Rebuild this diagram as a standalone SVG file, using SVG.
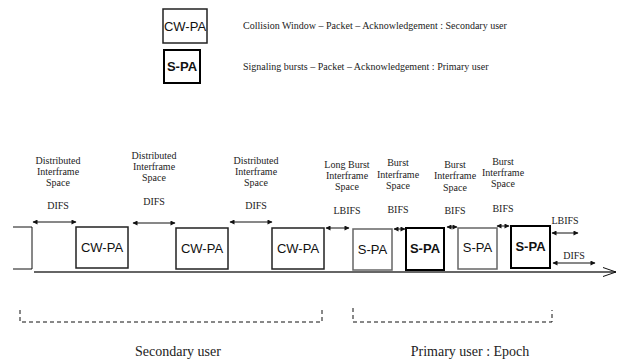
<svg xmlns="http://www.w3.org/2000/svg" width="624" height="363" viewBox="0 0 624 363">
<defs>
<style>
.bg{fill:#fff}
.box{fill:#fff;stroke:#222;stroke-width:1.5}
.boxg{fill:#fff;stroke:#666;stroke-width:1.5}
.boxb{fill:#fff;stroke:#000;stroke-width:2}
.lbl{font-family:"Liberation Sans",Arial,sans-serif;font-size:13px;fill:#111;text-anchor:middle}
.bold{font-weight:bold}
.t{font-family:"Liberation Serif","Times New Roman",serif;font-size:10px;fill:#222;text-anchor:middle}
.lt{font-family:"Liberation Serif","Times New Roman",serif;font-size:10px;fill:#222}
.big{font-family:"Liberation Serif","Times New Roman",serif;font-size:14px;fill:#222;text-anchor:middle}
.arr{stroke:#111;stroke-width:1;fill:none;marker-start:url(#ah);marker-end:url(#ah)}
.ln{stroke:#111;stroke-width:1;fill:none}
.dash{stroke:#111;stroke-width:1;fill:none;stroke-dasharray:4 3}
</style>
<marker id="ah" viewBox="0 0 10 10" refX="9" refY="5" markerWidth="6" markerHeight="5" orient="auto-start-reverse" markerUnits="userSpaceOnUse">
<path d="M0,0 L10,5 L0,10 z" fill="#111"/>
</marker>
</defs>
<rect class="bg" x="0" y="0" width="624" height="363"/>

<g id="legend">
<g id="legend-cwpa">
<rect class="box" x="163" y="9" width="44" height="34"/>
<text class="lbl" x="185" y="31">CW-PA</text>
<text class="lt" x="243" y="29">Collision Window – Packet – Acknowledgement : Secondary user</text>
</g>
<g id="legend-spa">
<rect class="boxb" x="164" y="50" width="36" height="33"/>
<text class="lbl bold" x="182" y="71">S-PA</text>
<text class="lt" x="243" y="70">Signaling bursts – Packet – Acknowledgement : Primary user</text>
</g>
</g>

<g id="labels">
<text class="t" x="58" y="164">Distributed</text>
<text class="t" x="58" y="175">Interframe</text>
<text class="t" x="58" y="186">Space</text>
<text class="t" x="58" y="209">DIFS</text>

<text class="t" x="154" y="159">Distributed</text>
<text class="t" x="154" y="170">Interframe</text>
<text class="t" x="154" y="181">Space</text>
<text class="t" x="154" y="205">DIFS</text>

<text class="t" x="256" y="164">Distributed</text>
<text class="t" x="256" y="175">Interframe</text>
<text class="t" x="256" y="186">Space</text>
<text class="t" x="256" y="209">DIFS</text>

<text class="t" x="347" y="168">Long Burst</text>
<text class="t" x="347" y="179">Interframe</text>
<text class="t" x="347" y="190">Space</text>
<text class="t" x="347" y="214">LBIFS</text>

<text class="t" x="398" y="166">Burst</text>
<text class="t" x="398" y="178">Interframe</text>
<text class="t" x="398" y="189">Space</text>
<text class="t" x="398" y="213">BIFS</text>

<text class="t" x="455" y="168">Burst</text>
<text class="t" x="455" y="179">Interframe</text>
<text class="t" x="455" y="191">Space</text>
<text class="t" x="455" y="214">BIFS</text>

<text class="t" x="503" y="165">Burst</text>
<text class="t" x="503" y="176">Interframe</text>
<text class="t" x="503" y="187">Space</text>
<text class="t" x="503" y="212">BIFS</text>

<text class="t" x="565" y="224">LBIFS</text>
<text class="t" x="574" y="259">DIFS</text>
</g>

<g id="cwpa1"><rect class="box" x="76" y="227" width="52" height="41"/><text class="lbl" x="102" y="252">CW-PA</text></g>
<g id="cwpa2"><rect class="box" x="176" y="228" width="52" height="41"/><text class="lbl" x="202" y="253">CW-PA</text></g>
<g id="cwpa3"><rect class="box" x="272" y="228" width="52" height="41"/><text class="lbl" x="298" y="253">CW-PA</text></g>
<g id="spa1"><rect class="boxg" x="353" y="229" width="39" height="41"/><text class="lbl" x="372.5" y="254">S-PA</text></g>
<g id="spa2"><rect class="boxb" x="406" y="228" width="38" height="42"/><text class="lbl bold" x="425" y="253">S-PA</text></g>
<g id="spa3"><rect class="boxg" x="458" y="228" width="39" height="41"/><text class="lbl" x="477.5" y="252">S-PA</text></g>
<g id="spa4"><rect class="boxb" x="511" y="226" width="39" height="42"/><text class="lbl bold" x="530.5" y="251">S-PA</text></g>

<g id="connectors">
<polyline class="ln" points="13,227 32,227 32,269 13,269"/>
<line class="arr" x1="33" y1="222" x2="76" y2="222"/>
<line class="arr" x1="133" y1="223" x2="175" y2="223"/>
<line class="arr" x1="230" y1="222" x2="272" y2="222"/>
<line class="arr" x1="326" y1="228" x2="349" y2="228"/>
<line class="arr" x1="394" y1="229" x2="405" y2="229"/>
<line class="arr" x1="447" y1="227" x2="457" y2="227"/>
<line class="arr" x1="497" y1="226" x2="509" y2="226"/>
<line class="arr" x1="552" y1="233" x2="578" y2="233"/>
<line class="arr" x1="553" y1="263" x2="595" y2="263"/>
<line x1="34" y1="272" x2="616" y2="272" stroke="#333" stroke-width="1.5"/>
<polyline class="ln" points="603,267.5 616,272 603,276.5"/>
<path class="dash" d="M20,310 V322 H322 V310"/>
<path class="dash" d="M353,308 V322 H552 V310"/>
</g>

<g id="captions">
<text class="big" x="178" y="356">Secondary user</text>
<text class="big" x="470" y="356">Primary user : Epoch</text>
</g>
</svg>
